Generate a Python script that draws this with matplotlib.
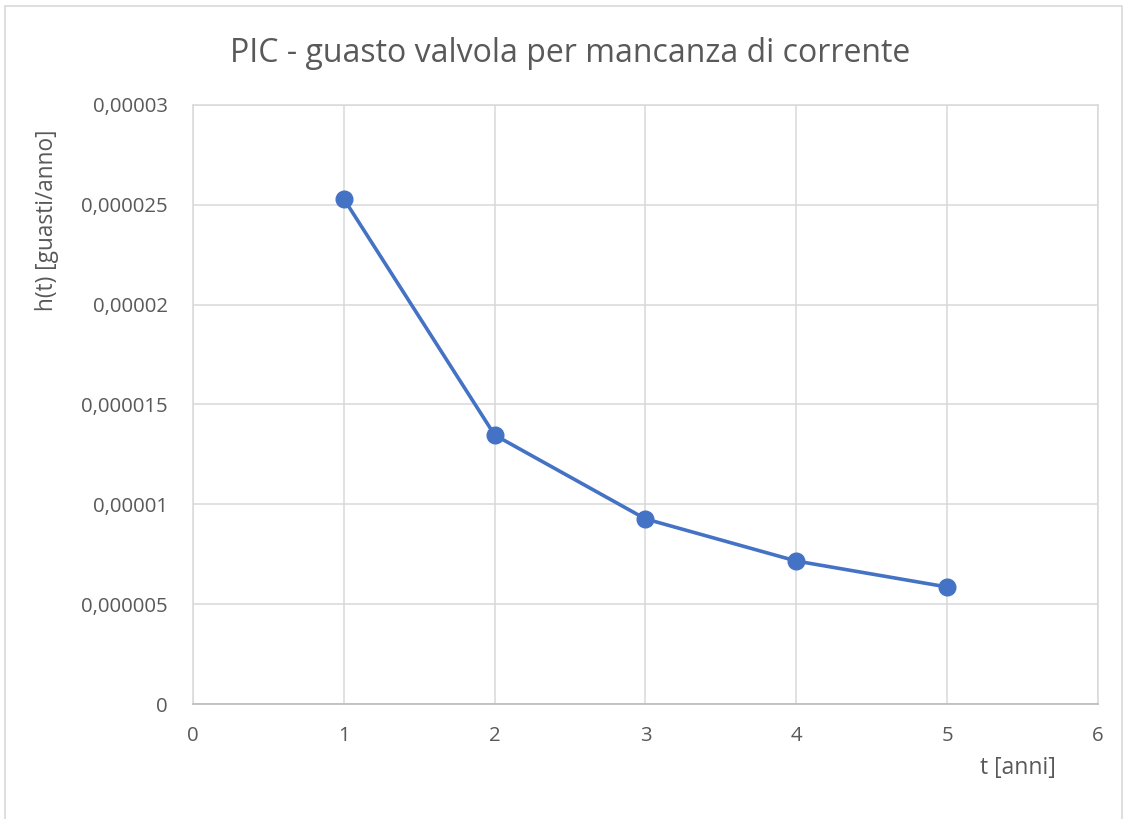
import matplotlib
matplotlib.use("Agg")
import matplotlib.pyplot as plt
from matplotlib.patches import Rectangle
from matplotlib.ticker import FuncFormatter, MultipleLocator

plt.rcParams['font.family'] = ['Open Sans', 'DejaVu Sans']

anni = [1, 2, 3, 4, 5]
hazard = [2.53e-5, 1.347e-5, 9.27e-6, 7.16e-6, 5.86e-6]

title = "PIC - guasto valvola per mancanza di corrente"
xlabel = "t [anni]"
ylabel = "h(t) [guasti/anno]"

text_col = "#595959"
grid_col = "#D9D9D9"
line_col = "#4472C4"

fig = plt.figure(figsize=(11.27, 8.19), dpi=100)
fig.patches.append(Rectangle((5 / 1127, -0.01), 1117 / 1127, 1 - 6 / 819 + 0.01,
                             transform=fig.transFigure, fill=False,
                             edgecolor=grid_col, linewidth=1.2))

ax = fig.add_axes([193 / 1127, 115 / 819, 905 / 1127, 599 / 819])
ax.plot(anni, hazard, color=line_col, linewidth=2.6, marker='o',
        markersize=12, markerfacecolor=line_col, markeredgecolor=line_col, zorder=3)

ax.set_xlim(0, 6)
ax.set_ylim(0, 3e-5)
ax.xaxis.set_major_locator(MultipleLocator(1))
ax.yaxis.set_major_locator(MultipleLocator(5e-6))


def fmt_y(v, pos):
    if abs(v) < 1e-12:
        return "0"
    s = f"{v:.6f}".rstrip('0')
    return s.replace('.', ',')


ax.yaxis.set_major_formatter(FuncFormatter(fmt_y))
ax.xaxis.set_major_formatter(FuncFormatter(lambda v, p: f"{int(round(v))}"))

ax.grid(True, color=grid_col, linewidth=1.1)
ax.set_axisbelow(True)
for side, sp in ax.spines.items():
    sp.set_color(grid_col)
    sp.set_linewidth(1.1)
ax.spines['bottom'].set_color("#BFBFBF")
ax.spines['bottom'].set_linewidth(1.3)
ax.tick_params(axis='both', length=0, labelsize=14.7, labelcolor=text_col)
ax.tick_params(axis='y', pad=18)
ax.tick_params(axis='x', pad=16)

fig.text(570 / 1127, 1 - 53 / 819, title, ha='center', va='center',
         fontsize=23, color=text_col)
fig.text(1018 / 1127, 1 - 768 / 819, xlabel, ha='center', va='center',
         fontsize=16.5, color=text_col)
fig.text(47 / 1127, 1 - 220 / 819, ylabel, ha='center', va='center',
         rotation=90, fontsize=16.3, color=text_col)

fig.savefig("out.png", dpi=100, facecolor="white")
